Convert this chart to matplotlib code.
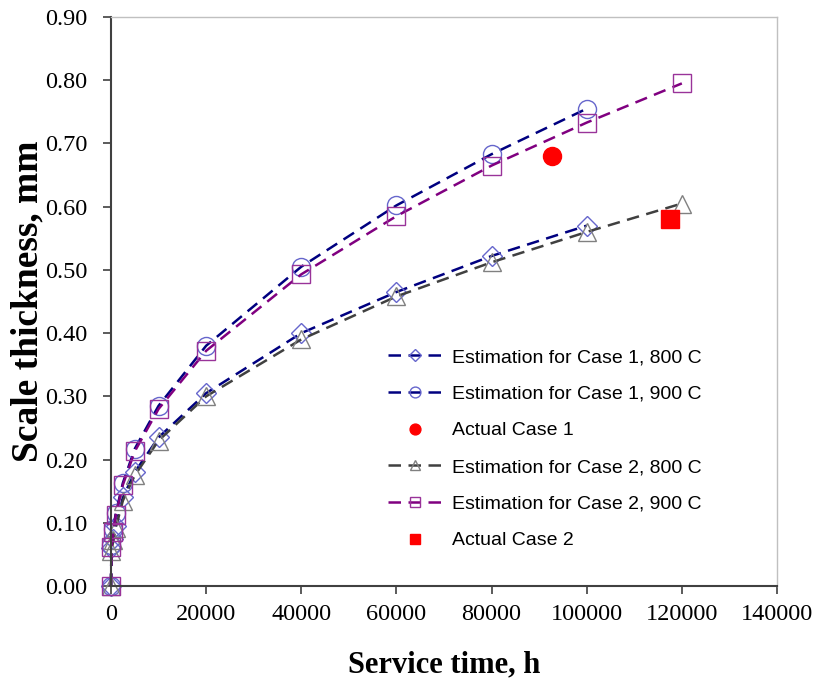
import matplotlib
matplotlib.use("Agg")
import matplotlib.pyplot as plt

# service time (h) and scale thickness (mm)
t_short = [0, 100, 500, 1000, 2500, 5000, 10000, 20000, 40000, 60000, 80000, 100000]
t_long = t_short + [120000]

case1_800 = [0.0, 0.060, 0.075, 0.095, 0.140, 0.180, 0.235, 0.305, 0.400, 0.465, 0.522, 0.570]
case1_900 = [0.0, 0.065, 0.090, 0.115, 0.163, 0.217, 0.285, 0.380, 0.505, 0.602, 0.683, 0.755]
case2_800 = [0.0, 0.055, 0.072, 0.092, 0.135, 0.175, 0.230, 0.300, 0.390, 0.458, 0.512, 0.560, 0.605]
case2_900 = [0.0, 0.062, 0.086, 0.112, 0.160, 0.213, 0.280, 0.372, 0.493, 0.585, 0.665, 0.733, 0.795]

actual1 = (92700, 0.680)
actual2 = (117500, 0.580)

fig = plt.figure(figsize=(8.19, 6.81), dpi=100)
ax = fig.add_axes([0.1355, 0.1395, 0.8132, 0.8355])

ms = 13
dash = (0, (5, 3))
ax.plot(t_short, case1_800, ls=dash, color="#000080", lw=1.8,
        marker="D", ms=ms * 0.8, mfc="none", mec="#6666cc", mew=1.0,
        label="Estimation for Case 1, 800 C")
ax.plot(t_short, case1_900, ls=dash, color="#000080", lw=1.8,
        marker="o", ms=ms, mfc="none", mec="#6666cc", mew=1.0,
        label="Estimation for Case 1, 900 C")
ax.plot(*actual1, ls="none", marker="o", ms=ms, color="red",
        label="Actual Case 1")
ax.plot(t_long, case2_800, ls=dash, color="#404040", lw=1.8,
        marker="^", ms=ms, mfc="none", mec="#808080", mew=1.0,
        label="Estimation for Case 2, 800 C")
ax.plot(t_long, case2_900, ls=dash, color="#800080", lw=1.8,
        marker="s", ms=ms, mfc="none", mec="#993399", mew=1.0,
        label="Estimation for Case 2, 900 C")
ax.plot(*actual2, ls="none", marker="s", ms=ms, color="red",
        label="Actual Case 2")

for ln in ax.lines:
    ln.set_clip_on(False)

ax.set_xlim(0, 140000)
ax.set_ylim(0, 0.9)
ax.set_xticks(range(0, 140001, 20000))
ax.set_yticks([i / 10 for i in range(10)])
ax.set_yticklabels([f"{i / 10:.2f}" for i in range(10)])

for side in ("left", "bottom"):
    ax.spines[side].set_color("#404040")
    ax.spines[side].set_linewidth(1.5)
for side in ("top", "right"):
    ax.spines[side].set_color("#c0c0c0")
    ax.spines[side].set_linewidth(1.0)

ax.tick_params(direction="out", length=6, width=1.2, color="#404040", labelsize=17.5)
ax.tick_params(axis="y", pad=11)
ax.tick_params(axis="x", pad=7)
for lab in ax.get_xticklabels() + ax.get_yticklabels():
    lab.set_fontfamily("Liberation Serif")

ax.set_xlabel("Service time, h", fontfamily="Liberation Serif",
              fontweight="bold", fontsize=22, labelpad=18)
ax.set_ylabel("Scale thickness, mm", fontfamily="Liberation Serif",
              fontweight="bold", fontsize=27, labelpad=0)

leg = ax.legend(loc="upper left", bbox_to_anchor=(0.404, 0.431), frameon=False,
                prop={"family": "Liberation Sans", "size": 14},
                handlelength=2.8, handletextpad=0.5, labelspacing=0.98,
                markerscale=0.6, borderaxespad=0)

fig.savefig("out.png", dpi=100)
